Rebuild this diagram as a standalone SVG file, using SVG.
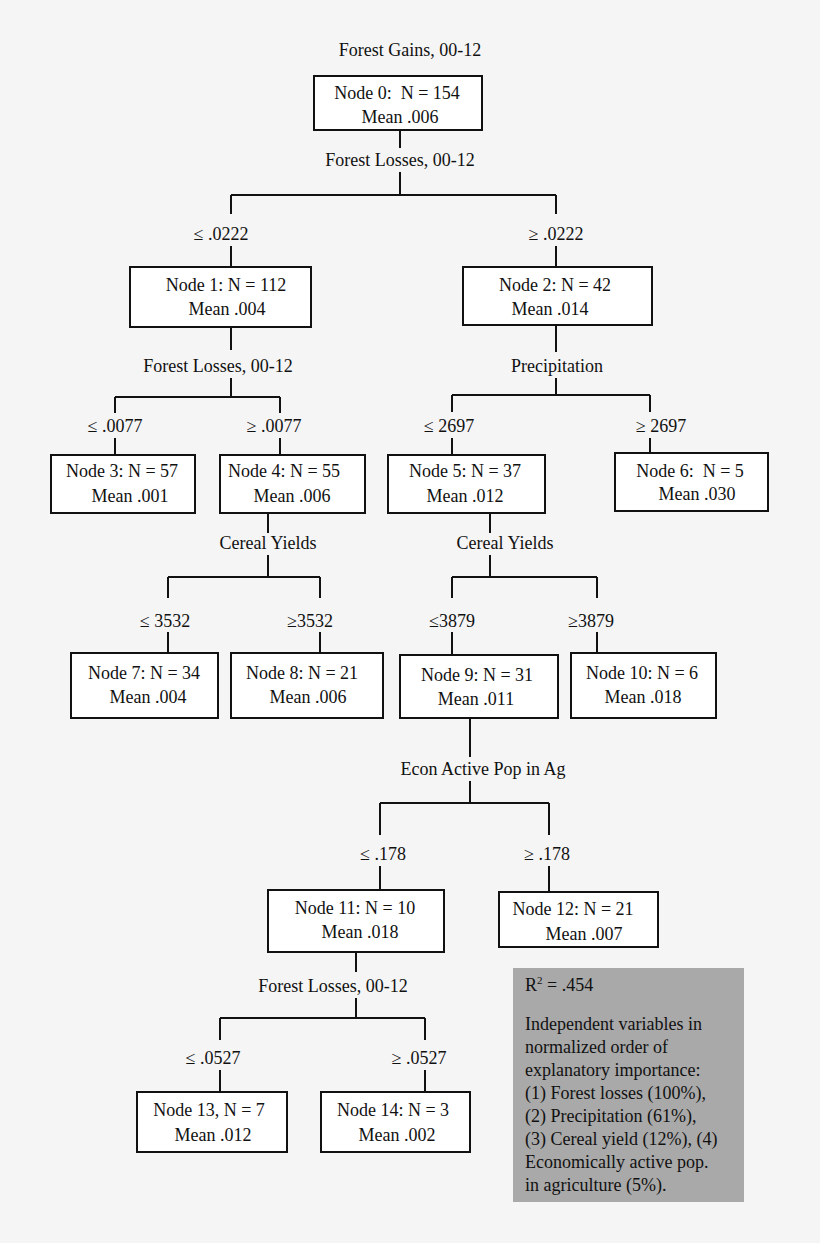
<svg xmlns="http://www.w3.org/2000/svg" width="820" height="1243" viewBox="0 0 820 1243" font-family="'Liberation Serif', 'DejaVu Serif', serif">
<style>
text{font-family:'Liberation Serif','DejaVu Serif',serif;font-size:18px;fill:#111;text-anchor:middle}
.n rect{fill:#fff;stroke:#111;stroke-width:2}
#conn path{fill:none;stroke:#111;stroke-width:2}
.l{text-anchor:start}
</style>
<rect width="820" height="1243" fill="#f5f5f5"/>
<g id="conn"><path d="M400 130V148M400 172V195M231 195H556M231 195V214M556 195V214M231 246V267M556 246V267
M231 327V350M231 378V397M115 397H280M115 397V413M280 397V413M115 438V455M280 438V455
M556 325V352M556 378V395M452 395H650M452 395V412M650 395V412M452 438V455M650 438V453
M268 513V533M268 555V577M168 577H320M168 577V598M320 577V598M168 632V653M320 632V653
M490 513V533M490 555V577M452 577H597M452 577V598M597 577V598M452 632V655M597 632V653
M470 718V757M470 781V803M380 803H549M380 803V835M549 803V835M380 866V890M549 866V892
M356 952V972M356 998V1018M220 1018H425M220 1018V1040M425 1018V1040M220 1070V1092M425 1070V1092"/></g>
<text x="410" y="56">Forest Gains, 00-12</text>
<text x="400" y="166">Forest Losses, 00-12</text>
<text x="221" y="240">≤ .0222</text>
<text x="556" y="240">≥ .0222</text>
<text x="218" y="372">Forest Losses, 00-12</text>
<text x="557" y="372">Precipitation</text>
<text x="115" y="432">≤ .0077</text>
<text x="274" y="432">≥ .0077</text>
<text x="449" y="432">≤ 2697</text>
<text x="661" y="432">≥ 2697</text>
<text x="268" y="549">Cereal Yields</text>
<text x="505" y="549">Cereal Yields</text>
<text x="165" y="627">≤ 3532</text>
<text x="310" y="627">≥3532</text>
<text x="452" y="627">≤3879</text>
<text x="591" y="627">≥3879</text>
<text x="483" y="775">Econ Active Pop in Ag</text>
<text x="383" y="860">≤ .178</text>
<text x="547" y="860">≥ .178</text>
<text x="333" y="992">Forest Losses, 00-12</text>
<text x="213" y="1064">≤ .0527</text>
<text x="419" y="1064">≥ .0527</text>
<g id="node0" class="n"><rect x="314" y="76" width="168" height="54"/><text x="397" y="99">Node 0:&#160; N = 154</text><text x="400" y="123">Mean .006</text></g>
<g id="node1" class="n"><rect x="130" y="267" width="181" height="60"/><text x="226" y="291">Node 1: N = 112</text><text x="227" y="315">Mean .004</text></g>
<g id="node2" class="n"><rect x="463" y="267" width="189" height="58"/><text x="555" y="291">Node 2: N = 42</text><text x="550" y="315">Mean .014</text></g>
<g id="node3" class="n"><rect x="51" y="455" width="144" height="58"/><text x="122" y="477">Node 3: N = 57</text><text x="130" y="502">Mean .001</text></g>
<g id="node4" class="n"><rect x="220" y="455" width="145" height="58"/><text x="284" y="477">Node 4: N = 55</text><text x="292" y="502">Mean .006</text></g>
<g id="node5" class="n"><rect x="388" y="455" width="157" height="58"/><text x="465" y="477">Node 5: N = 37</text><text x="465" y="502">Mean .012</text></g>
<g id="node6" class="n"><rect x="615" y="453" width="153" height="58"/><text x="690" y="477">Node 6:&#160; N = 5</text><text x="697" y="500">Mean .030</text></g>
<g id="node7" class="n"><rect x="71" y="653" width="147" height="65"/><text x="144" y="679">Node 7: N = 34</text><text x="148" y="703">Mean .004</text></g>
<g id="node8" class="n"><rect x="231" y="653" width="152" height="65"/><text x="302" y="679">Node 8: N = 21</text><text x="308" y="703">Mean .006</text></g>
<g id="node9" class="n"><rect x="400" y="655" width="158" height="63"/><text x="477" y="681">Node 9: N = 31</text><text x="476" y="705">Mean .011</text></g>
<g id="node10" class="n"><rect x="571" y="653" width="145" height="65"/><text x="642" y="679">Node 10: N = 6</text><text x="643" y="703">Mean .018</text></g>
<g id="node11" class="n"><rect x="268" y="890" width="176" height="62"/><text x="355" y="914">Node 11: N = 10</text><text x="360" y="938">Mean .018</text></g>
<g id="node12" class="n"><rect x="499" y="892" width="159" height="55"/><text x="573" y="915">Node 12: N = 21</text><text x="584" y="940">Mean .007</text></g>
<g id="node13" class="n"><rect x="137" y="1092" width="150" height="60"/><text x="209" y="1116">Node 13, N = 7</text><text x="213" y="1141">Mean .012</text></g>
<g id="node14" class="n"><rect x="321" y="1092" width="149" height="60"/><text x="393" y="1116">Node 14: N = 3</text><text x="397" y="1141">Mean .002</text></g>
<g id="legend"><rect x="513" y="968" width="231" height="234" fill="#a9a9a9"/>
<text class="l" x="525" y="991">R<tspan font-size="11" dy="-7">2</tspan><tspan dy="7"> = .454</tspan></text>
<text class="l" x="525" y="1030">Independent variables in</text>
<text class="l" x="525" y="1053">normalized order of</text>
<text class="l" x="525" y="1076">explanatory importance:</text>
<text class="l" x="525" y="1099">(1) Forest losses (100%),</text>
<text class="l" x="525" y="1122">(2) Precipitation (61%),</text>
<text class="l" x="525" y="1145">(3) Cereal yield (12%), (4)</text>
<text class="l" x="525" y="1168">Economically active pop.</text>
<text class="l" x="525" y="1191">in agriculture (5%).</text>
</g>
</svg>
